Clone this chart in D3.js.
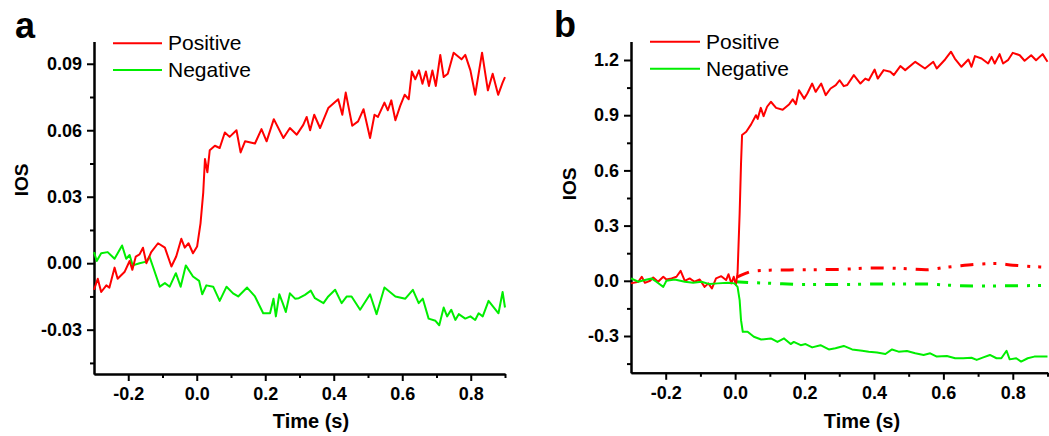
<!DOCTYPE html>
<html>
<head>
<meta charset="utf-8">
<script src="https://cdn.jsdelivr.net/npm/d3@7"></script>
<style>
  body { margin: 0; background: #fff; }
  svg { display: block; font-family: "Liberation Sans", Arial, sans-serif; }
</style>
</head>
<body>
<svg id="chart" width="1049" height="436"></svg>
<script>
// ---- panel a : small response (time in s, IOS) ----
const tA_pos = [-0.300,-0.289,-0.279,-0.264,-0.255,-0.240,-0.231,-0.211,-0.196,-0.188,-0.178,-0.167,-0.157,-0.147,-0.133,-0.113,-0.093,-0.074,-0.060,-0.045,-0.035,-0.024,-0.011,0.001,0.011,0.019,0.024,0.031,0.038,0.053,0.067,0.082,0.096,0.116,0.128,0.141,0.170,0.189,0.204,0.225,0.253,0.272,0.292,0.311,0.321,0.331,0.343,0.360,0.384,0.413,0.425,0.435,0.454,0.471,0.487,0.506,0.519,0.529,0.548,0.558,0.568,0.580,0.594,0.607,0.619,0.628,0.638,0.649,0.659,0.669,0.678,0.688,0.698,0.711,0.721,0.733,0.750,0.773,0.784,0.799,0.813,0.833,0.850,0.864,0.880,0.893,0.900];
const vA_pos = [-0.012,-0.007,-0.013,-0.010,-0.011,-0.002,-0.007,-0.004,0.001,-0.003,0.003,0.004,0.007,0.000,0.005,0.009,0.007,-0.0015,0.003,0.011,0.007,0.009,0.0045,0.0075,0.018,0.032,0.047,0.041,0.051,0.053,0.052,0.059,0.057,0.060,0.050,0.055,0.054,0.0605,0.055,0.065,0.0565,0.061,0.058,0.0624,0.066,0.060,0.067,0.061,0.070,0.074,0.067,0.077,0.062,0.064,0.0695,0.0565,0.067,0.066,0.0725,0.069,0.0735,0.0645,0.071,0.076,0.074,0.0865,0.083,0.087,0.081,0.0865,0.080,0.087,0.080,0.094,0.084,0.0855,0.095,0.092,0.094,0.087,0.076,0.095,0.078,0.0855,0.076,0.0815,0.084];

const tA_neg = [-0.300,-0.292,-0.279,-0.260,-0.240,-0.218,-0.206,-0.196,-0.187,-0.167,-0.147,-0.138,-0.128,-0.108,-0.093,-0.079,-0.061,-0.047,-0.032,-0.011,0.007,0.016,0.028,0.048,0.067,0.087,0.106,0.121,0.147,0.170,0.194,0.214,0.224,0.231,0.241,0.251,0.260,0.272,0.287,0.298,0.316,0.333,0.345,0.370,0.384,0.404,0.423,0.438,0.452,0.477,0.506,0.525,0.548,0.580,0.609,0.631,0.648,0.660,0.677,0.697,0.708,0.721,0.731,0.743,0.755,0.765,0.784,0.799,0.813,0.823,0.835,0.852,0.881,0.893,0.900];
const vA_neg = [0.005,0.001,0.0045,0.005,0.002,0.008,0.002,0.0037,-0.001,0.000,0.0007,0.003,-0.0015,-0.0106,-0.009,-0.0106,-0.0045,-0.0106,-0.001,-0.006,-0.008,-0.014,-0.010,-0.0106,-0.017,-0.0106,-0.0136,-0.015,-0.011,-0.015,-0.0226,-0.0226,-0.016,-0.024,-0.014,-0.018,-0.022,-0.0136,-0.016,-0.0158,-0.0143,-0.0124,-0.0158,-0.018,-0.015,-0.012,-0.018,-0.015,-0.015,-0.021,-0.014,-0.023,-0.011,-0.015,-0.016,-0.012,-0.018,-0.016,-0.025,-0.026,-0.028,-0.020,-0.024,-0.021,-0.0256,-0.023,-0.025,-0.024,-0.0256,-0.0226,-0.024,-0.017,-0.0226,-0.013,-0.020];

// ---- panel b : large response, solid = signal, dash-dot = control ----
const tB_pos = [-0.300,-0.279,-0.269,-0.260,-0.245,-0.236,-0.222,-0.207,-0.198,-0.183,-0.169,-0.157,-0.145,-0.131,-0.117,-0.102,-0.088,-0.077,-0.067,-0.055,-0.040,-0.026,-0.019,-0.011,-0.004,0.002,0.007,0.013,0.017,0.020,0.032,0.046,0.060,0.065,0.074,0.082,0.092,0.103,0.118,0.137,0.156,0.166,0.175,0.184,0.199,0.208,0.222,0.232,0.248,0.261,0.275,0.290,0.301,0.313,0.323,0.342,0.361,0.375,0.385,0.402,0.411,0.428,0.447,0.457,0.476,0.490,0.519,0.547,0.571,0.581,0.605,0.622,0.633,0.652,0.672,0.681,0.691,0.710,0.729,0.739,0.748,0.762,0.772,0.786,0.800,0.820,0.834,0.853,0.867,0.886,0.900];
const vB_pos = [-0.014,-0.005,0.022,-0.011,0.000,0.018,-0.005,0.022,0.007,0.013,0.022,0.054,0.000,0.013,-0.005,0.007,-0.033,-0.014,-0.042,0.013,0.025,0.004,0.036,-0.014,0.022,-0.022,0.040,0.366,0.638,0.792,0.810,0.850,0.900,0.880,0.940,0.895,0.946,0.973,0.940,0.930,0.960,0.986,0.960,1.036,0.990,1.018,1.072,1.027,1.072,1.009,1.045,1.063,1.090,1.058,1.064,1.118,1.072,1.099,1.090,1.148,1.099,1.145,1.136,1.118,1.167,1.145,1.190,1.154,1.190,1.154,1.203,1.245,1.208,1.163,1.203,1.163,1.221,1.208,1.181,1.217,1.181,1.232,1.181,1.199,1.239,1.226,1.196,1.226,1.199,1.232,1.190];

const tB_neg = [-0.300,-0.279,-0.260,-0.241,-0.227,-0.207,-0.198,-0.174,-0.145,-0.121,-0.097,-0.074,-0.050,-0.021,-0.002,0.007,0.013,0.017,0.022,0.036,0.054,0.075,0.103,0.122,0.141,0.160,0.169,0.189,0.203,0.222,0.246,0.270,0.289,0.313,0.337,0.366,0.385,0.409,0.433,0.452,0.471,0.495,0.519,0.543,0.562,0.581,0.610,0.634,0.657,0.681,0.696,0.715,0.734,0.753,0.767,0.782,0.791,0.810,0.824,0.843,0.862,0.900];
const vB_neg = [0.013,-0.005,0.004,0.013,-0.005,-0.033,0.000,0.007,-0.005,-0.011,-0.005,-0.018,-0.014,-0.011,-0.014,-0.033,-0.105,-0.214,-0.277,-0.277,-0.304,-0.319,-0.313,-0.332,-0.313,-0.344,-0.332,-0.350,-0.344,-0.362,-0.350,-0.373,-0.367,-0.354,-0.373,-0.380,-0.385,-0.390,-0.398,-0.373,-0.385,-0.382,-0.394,-0.403,-0.394,-0.412,-0.409,-0.421,-0.421,-0.418,-0.430,-0.416,-0.403,-0.421,-0.421,-0.380,-0.427,-0.421,-0.439,-0.421,-0.412,-0.412];

const tB_posCtrl = [0.005,0.030,0.050,0.100,0.200,0.300,0.400,0.480,0.550,0.600,0.650,0.700,0.750,0.800,0.850,0.900];
const vB_posCtrl = [0.020,0.040,0.052,0.058,0.060,0.062,0.070,0.067,0.060,0.072,0.082,0.090,0.094,0.085,0.078,0.074];
const tB_negCtrl = [0.000,0.050,0.100,0.200,0.300,0.400,0.500,0.550,0.600,0.650,0.700,0.800,0.900];
const vB_negCtrl = [-0.005,-0.010,-0.013,-0.020,-0.020,-0.018,-0.018,-0.017,-0.022,-0.027,-0.028,-0.027,-0.025];

const xMajor = [-0.2, 0, 0.2, 0.4, 0.6, 0.8];
const xMinor = [-0.1, 0.1, 0.3, 0.5, 0.7, 0.9];
const yMajorA = [-0.03, 0, 0.03, 0.06, 0.09];
const yMinorA = [-0.045, -0.015, 0.015, 0.045, 0.075];
const yMajorB = [-0.3, 0, 0.3, 0.6, 0.9, 1.2];
const yMinorB = [-0.45, -0.15, 0.15, 0.45, 0.75, 1.05];
const legendNames = ["Positive", "Negative"];

const RED = "#ff0000", GREEN = "#00ee00";
const svg = d3.select("#chart");

function drawPanel(cfg) {
  const x = d3.scaleLinear().domain([-0.3, 0.9]).range(cfg.xr);
  const y = d3.scaleLinear().domain(cfg.yd).range(cfg.yr);
  const g = svg.append("g");

  // axes: minor first, then major with labels
  g.append("g").attr("transform", `translate(0,${cfg.yr[0]})`)
    .call(d3.axisBottom(x).tickValues(xMinor).tickSize(4).tickFormat("").tickSizeOuter(0));
  g.append("g").attr("transform", `translate(0,${cfg.yr[0]})`)
    .call(d3.axisBottom(x).tickValues(xMajor).tickSize(7).tickPadding(6)
      .tickFormat(d => d.toFixed(1)).tickSizeOuter(0));
  g.append("g").attr("transform", `translate(${cfg.xr[0]},0)`)
    .call(d3.axisLeft(y).tickValues(cfg.yMinor).tickSize(4).tickFormat("").tickSizeOuter(0));
  g.append("g").attr("transform", `translate(${cfg.xr[0]},0)`)
    .call(d3.axisLeft(y).tickValues(cfg.yMajor).tickSize(7).tickPadding(5)
      .tickFormat(d => d.toFixed(cfg.dec)).tickSizeOuter(0));

  g.selectAll(".domain").attr("stroke", "#000").attr("stroke-width", 2);
  g.selectAll(".tick line").attr("stroke", "#000").attr("stroke-width", 2);
  g.selectAll(".tick text").attr("fill", "#000")
    .style("font-size", "18px").style("font-weight", "bold");

  const line = d3.line().x(d => x(d[0])).y(d => y(d[1]));
  const smooth = d3.line().curve(d3.curveMonotoneX).x(d => x(d[0])).y(d => y(d[1]));

  (cfg.ctrl || []).forEach(s => {
    g.append("path").datum(d3.zip(s.t, s.v))
      .attr("fill", "none").attr("stroke", s.color).attr("stroke-width", 3)
      .attr("stroke-dasharray", "13,9,3,8,3,9").attr("d", smooth);
  });
  cfg.series.forEach(s => {
    g.append("path").datum(d3.zip(s.t, s.v))
      .attr("fill", "none").attr("stroke", s.color).attr("stroke-width", 2)
      .attr("stroke-linejoin", "round").attr("d", line);
  });

  // legend
  legendNames.forEach((name, i) => {
    const ly = cfg.legY[i];
    g.append("line").attr("x1", cfg.legX[0]).attr("x2", cfg.legX[1])
      .attr("y1", ly).attr("y2", ly)
      .attr("stroke", i === 0 ? RED : GREEN).attr("stroke-width", 2);
    g.append("text").attr("x", cfg.legX[1] + 6).attr("y", ly + 7)
      .style("font-size", "21px").attr("fill", "#000").text(name);
  });

  // titles
  g.append("text").attr("x", cfg.xTitle).attr("y", 428).attr("text-anchor", "middle")
    .style("font-size", "20px").style("font-weight", "bold").text("Time (s)");
  g.append("text").attr("transform", `translate(${cfg.yTitle[0]},${cfg.yTitle[1]}) rotate(-90)`)
    .attr("text-anchor", "middle").attr("dy", "0.35em")
    .style("font-size", "19px").style("font-weight", "bold").text("IOS");
  g.append("text").attr("x", cfg.tag[0]).attr("y", cfg.tag[1])
    .style("font-size", "36px").style("font-weight", "bold").text(cfg.letter);
}

drawPanel({
  letter: "a", tag: [15, 38],
  xr: [94, 505], yr: [374, 41.6], yd: [-0.05, 0.10],
  yMajor: yMajorA, yMinor: yMinorA, dec: 2,
  xTitle: 311, yTitle: [21, 180],
  legX: [113, 162], legY: [43.3, 70],
  series: [
    { t: tA_neg, v: vA_neg, color: GREEN },
    { t: tA_pos, v: vA_pos, color: RED }
  ]
});

drawPanel({
  letter: "b", tag: [554, 37],
  xr: [631, 1047.5], yr: [372.8, 41.6], yd: [-0.5, 1.3],
  yMajor: yMajorB, yMinor: yMinorB, dec: 1,
  xTitle: 862, yTitle: [569, 184],
  legX: [650, 700], legY: [41.7, 68.7],
  ctrl: [
    { t: tB_posCtrl, v: vB_posCtrl, color: RED },
    { t: tB_negCtrl, v: vB_negCtrl, color: GREEN }
  ],
  series: [
    { t: tB_pos, v: vB_pos, color: RED },
    { t: tB_neg, v: vB_neg, color: GREEN }
  ]
});
</script>
</body>
</html>
